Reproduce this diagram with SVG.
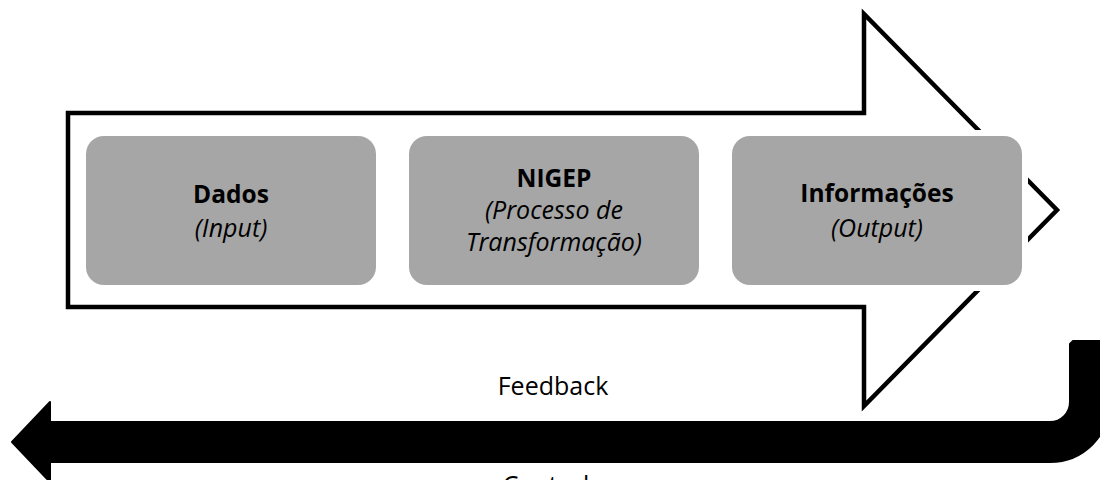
<svg xmlns="http://www.w3.org/2000/svg" width="1100" height="480" viewBox="0 0 1100 480">
  <style>
    .outline { fill: #ffffff; stroke: #000000; stroke-width: 4.5; stroke-linejoin: miter; }
    .halo { fill: #ffffff; }
    .box { fill: #a6a6a6; }
    .feedback { fill: #000000; stroke: #000000; stroke-width: 2; stroke-linejoin: round; }
    text { font-family: "Open Sans", "Liberation Sans", sans-serif; font-size: 25px; fill: #000000; text-anchor: middle; }
    .b { font-weight: bold; font-size: 24.5px; }
    .i { font-style: italic; }
  </style>
  <rect x="0" y="0" width="1100" height="480" fill="#ffffff"/>
  <g id="process-arrow">
    <polygon class="outline" points="68,113 864,113 864,14 1057,210 864,406 864,307 68,307"/>
  </g>
  <g id="node-dados">
    <rect class="halo" x="80" y="130" width="302" height="161" rx="24"/>
    <rect class="box" x="86" y="136" width="290" height="149" rx="18"/>
    <text class="b" x="231" y="203">Dados</text>
    <text class="i" x="231" y="237">(Input)</text>
  </g>
  <g id="node-nigep">
    <rect class="halo" x="403" y="130" width="302" height="161" rx="24"/>
    <rect class="box" x="409" y="136" width="290" height="149" rx="18"/>
    <text class="b" x="554" y="187">NIGEP</text>
    <text class="i" x="554" y="219">(Processo de</text>
    <text class="i" x="554" y="251">Transformação)</text>
  </g>
  <g id="node-informacoes">
    <rect class="halo" x="726" y="130" width="302" height="161" rx="24"/>
    <rect class="box" x="732" y="136" width="290" height="149" rx="18"/>
    <text class="b" x="877" y="202">Informações</text>
    <text class="i" x="877" y="237">(Output)</text>
  </g>
  <g id="connectors">
    <path class="feedback" d="M1073,341 L1110,341 L1110,402 A60,60 0 0 1 1050,462 L50,462 L50,482 L12,442 L50,402 L50,422 L1050,422 A20,20 0 0 0 1070,402 L1070,344 Z"/>
    <text x="553" y="395">Feedback</text>
    <text x="553" y="494">Controle</text>
  </g>
</svg>
